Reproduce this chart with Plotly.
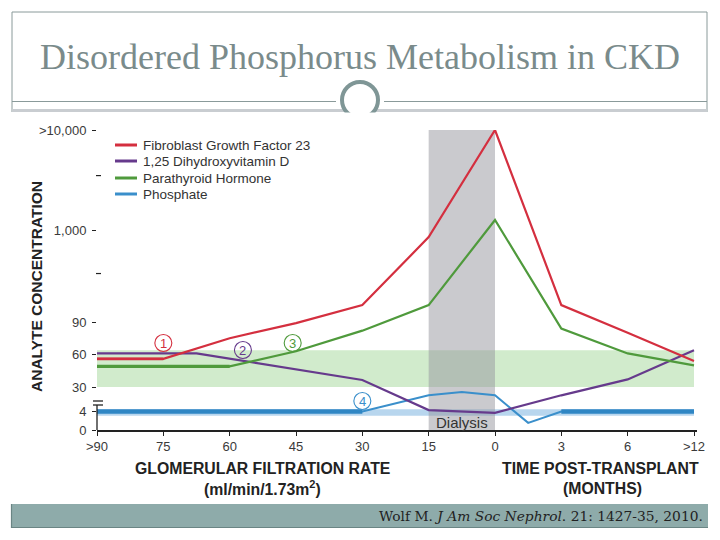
import math
import plotly.graph_objects as go

# ---------------- data ----------------
x_labels = [">90", "75", "60", "45", "30", "15", "0", "3", "6", ">12"]
x_index = list(range(len(x_labels)))

fgf23_x = [0, 1, 2, 3, 4, 5, 6, 7, 8, 9]
fgf23 = [56, 56, 75, 89, 140, 830, 10000, 140, 80, 54]

vitd_x = [0, 1.5, 4, 5, 6, 7, 8, 9]
vitd = [61, 61, 36.5, 5, 3.6, 21, 37, 64]

pth_x = [0, 1, 2, 3, 4, 5, 6, 7, 8, 9]
pth = [49, 49, 49, 63, 82, 140, 1260, 84, 61, 50]

phos_x = [0, 4, 5, 5.5, 6, 6.5, 7, 9]
phos = [3.9, 3.9, 21, 24.5, 21, 1.5, 3.9, 3.9]

y_tick_values = [0, 4, 30, 60, 90, 1000, 10000]
y_tick_text = ["0", "4", "30", "60", "90", "1,000", ">10,000"]
y_minor_values = [320, 3500]

pth_normal = (30, 64)
phos_normal = (3.0, 6.0)
dialysis_span = (5, 6)

series_names = ["Fibroblast Growth Factor 23", "1,25 Dihydroxyvitamin D",
                "Parathyroid Hormone", "Phosphate"]
RED, PURPLE, GREEN, BLUE = "#d42f3f", "#663a8c", "#4f9a3c", "#3a8fcb"
colors = [RED, PURPLE, GREEN, BLUE]


# piecewise axis scale (linear low range, log high range)
def pos(v):
    if v <= 4:
        return v * 19 / 4
    if v <= 30:
        return 19 + (v - 4) * 24 / 26
    if v <= 90:
        return 43 + (v - 30) * 65 / 60
    if v <= 1000:
        return 108 + 92 * math.log10(v / 90) / math.log10(1000 / 90)
    return 200 + 100 * math.log10(v / 1000)


# ---------------- layout geometry ----------------
W, H = 720, 540
ML, MR, MT, MB = 97, 23, 130, 110
PW, PH = W - ML - MR, H - MT - MB


def px(x):
    return (x - ML) / PW


def py(y):
    return (H - MB - y) / PH


FONT = "Liberation Sans, Arial, sans-serif"

fig = go.Figure()


def add_line(xs, vs, color, width, name=None, show=False):
    fig.add_trace(go.Scatter(
        x=xs, y=[pos(v) for v in vs], mode="lines",
        line=dict(color=color, width=width),
        name=name, showlegend=show, hoverinfo="skip"))


add_line(phos_x, phos, BLUE, 2)
add_line(phos_x[:2], phos[:2], "#2f86c4", 4.5)
add_line(phos_x[-2:], phos[-2:], "#2f86c4", 4.5)
add_line(vitd_x, vitd, PURPLE, 2.2)
add_line(pth_x, pth, GREEN, 2.2)
add_line(pth_x[:3], pth[:3], GREEN, 3.4)
add_line(fgf23_x, fgf23, RED, 2.2)
add_line(fgf23_x[:2], fgf23[:2], RED, 2.8)

shapes = []
# bands
shapes.append(dict(type="rect", xref="x", yref="y", x0=0, x1=9,
                   y0=pos(pth_normal[0]), y1=pos(pth_normal[1]),
                   fillcolor="rgba(172,218,162,0.55)", line_width=0, layer="below"))
shapes.append(dict(type="rect", xref="x", yref="y", x0=0, x1=9,
                   y0=pos(phos_normal[0]), y1=pos(phos_normal[1]),
                   fillcolor="rgba(160,200,232,0.75)", line_width=0, layer="below"))
shapes.append(dict(type="rect", xref="x", yref="y", x0=dialysis_span[0], x1=dialysis_span[1],
                   y0=0, y1=300, fillcolor="rgba(150,150,158,0.5)", line_width=0, layer="below"))

# y axis stub, minor ticks and break marks
AX = "#222222"
shapes.append(dict(type="line", xref="paper", yref="y", x0=0, x1=0, y0=0, y1=25,
                   line=dict(color=AX, width=1.3)))
for yy in (25, 29):
    shapes.append(dict(type="line", xref="paper", yref="y", x0=px(93), x1=px(103),
                       y0=yy, y1=yy, line=dict(color=AX, width=1.3)))
for mv in y_minor_values:
    shapes.append(dict(type="line", xref="paper", yref="y", x0=px(96), x1=px(101),
                       y0=pos(mv), y1=pos(mv), line=dict(color=AX, width=1.2)))

# legend swatches
leg_y = [145, 161, 178, 194]
for c, ly in zip(colors, leg_y):
    shapes.append(dict(type="line", xref="paper", yref="paper", x0=px(115), x1=px(137),
                       y0=py(ly), y1=py(ly), line=dict(color=c, width=3)))

# circled markers
markers = [(1, 87, RED, "1"), (2.2, 80, PURPLE, "2"), (2.95, 87, GREEN, "3"), (4.0, 29, BLUE, "4")]
for mx, my, c, t in markers:
    shapes.append(dict(type="circle", xref="x", yref="y", xsizemode="pixel", ysizemode="pixel",
                       xanchor=mx, yanchor=my, x0=-8.5, x1=8.5, y0=-8.5, y1=8.5,
                       line=dict(color=c, width=1.1), fillcolor="rgba(0,0,0,0)"))

# slide frame
FR = "#8a9a9a"
shapes.append(dict(type="line", xref="paper", yref="paper", x0=px(12), x1=px(707), y0=py(12), y1=py(12),
                   line=dict(color=FR, width=1)))
shapes.append(dict(type="line", xref="paper", yref="paper", x0=px(12), x1=px(12), y0=py(12), y1=py(112),
                   line=dict(color=FR, width=1)))
shapes.append(dict(type="line", xref="paper", yref="paper", x0=px(707), x1=px(707), y0=py(12), y1=py(112),
                   line=dict(color=FR, width=1)))
shapes.append(dict(type="line", xref="paper", yref="paper", x0=px(12), x1=px(707), y0=py(110.5), y1=py(110.5),
                   line=dict(color="#c9cdd1", width=3)))
shapes.append(dict(type="line", xref="paper", yref="paper", x0=px(12), x1=px(336), y0=py(101.5), y1=py(101.5),
                   line=dict(color=FR, width=1)))
shapes.append(dict(type="line", xref="paper", yref="paper", x0=px(384), x1=px(707), y0=py(101.5), y1=py(101.5),
                   line=dict(color=FR, width=1)))
shapes.append(dict(type="circle", xref="paper", yref="paper", x0=px(342), x1=px(378), y0=py(82), y1=py(118),
                   line=dict(color="#7f9696", width=4), fillcolor="white"))
shapes.append(dict(type="rect", xref="paper", yref="paper", x0=px(330), x1=px(390), y0=py(112.5), y1=py(125),
                   line_width=0, fillcolor="white"))

# footer bar
shapes.append(dict(type="rect", xref="paper", yref="paper", x0=px(11), x1=px(708), y0=py(504), y1=py(528),
                   line_width=0, fillcolor="#8eabaa"))
shapes.append(dict(type="line", xref="paper", yref="paper", x0=px(11.5), x1=px(11.5), y0=py(504), y1=py(528),
                   line=dict(color="#6a8584", width=1.2)))
shapes.append(dict(type="line", xref="paper", yref="paper", x0=px(11), x1=px(708), y0=py(527.5), y1=py(527.5),
                   line=dict(color="#6a8584", width=1.2)))

annotations = []


def note(x, y, text, size, color="#222222", family=FONT, xanchor="center", angle=0, xref="paper", yref="paper"):
    annotations.append(dict(xref=xref, yref=yref, x=x, y=y, text=text, showarrow=False,
                            xanchor=xanchor, yanchor="middle", textangle=angle,
                            font=dict(family=family, size=size, color=color)))


for t, ly in zip(series_names, leg_y):
    note(px(141), py(ly), t, 13.5, "#333333", xanchor="left")
for mx, my, c, t in markers:
    note(mx, my, t, 13, c, xref="x", yref="y")
note(5.5, 8, "Dialysis", 15, "#333333", xref="x", yref="y")
# axis titles
note(px(262), py(468), "<b>GLOMERULAR FILTRATION RATE</b>", 15.8)
note(px(262), py(488), "<b>(ml/min/1.73m<sup>2</sup>)</b>", 15.8)
note(px(600), py(468), "<b>TIME POST-TRANSPLANT</b>", 15.8)
note(px(602), py(488), "<b>(MONTHS)</b>", 15.8)
note(px(36), py(287), "<b>ANALYTE CONCENTRATION</b>", 15.5, angle=-90)
# slide title
note(px(360), py(57), "Disordered Phosphorus Metabolism in CKD", 36, "#7a8b8b",
     family="Liberation Serif, Times New Roman, serif")
# citation
note(px(705), py(516), "Wolf M. <i>J Am Soc Nephrol</i>. 21: 1427-35, 2010.", 13.8, "#222222",
     family="DejaVu Serif, serif", xanchor="right")

fig.update_layout(
    width=W, height=H,
    margin=dict(l=ML, r=MR, t=MT, b=MB),
    paper_bgcolor="white", plot_bgcolor="white",
    showlegend=False,
    shapes=shapes, annotations=annotations,
    xaxis=dict(range=[0, 9 * PW / 597], tickmode="array", tickvals=x_index, ticktext=x_labels,
               showgrid=False, zeroline=False, showline=True, linecolor=AX, linewidth=1.5,
               ticks="outside", ticklen=4, tickcolor=AX, tickwidth=1.2,
               tickfont=dict(family=FONT, size=13, color="#3a3a3a")),
    yaxis=dict(range=[0, 300], tickmode="array", tickvals=[pos(v) for v in y_tick_values],
               ticktext=y_tick_text, showgrid=False, zeroline=False, showline=False,
               ticks="outside", ticklen=4, tickcolor=AX, tickwidth=1.2, ticklabelstandoff=3,
               tickfont=dict(family=FONT, size=13, color="#3a3a3a")),
)

fig.write_html("out.html")
